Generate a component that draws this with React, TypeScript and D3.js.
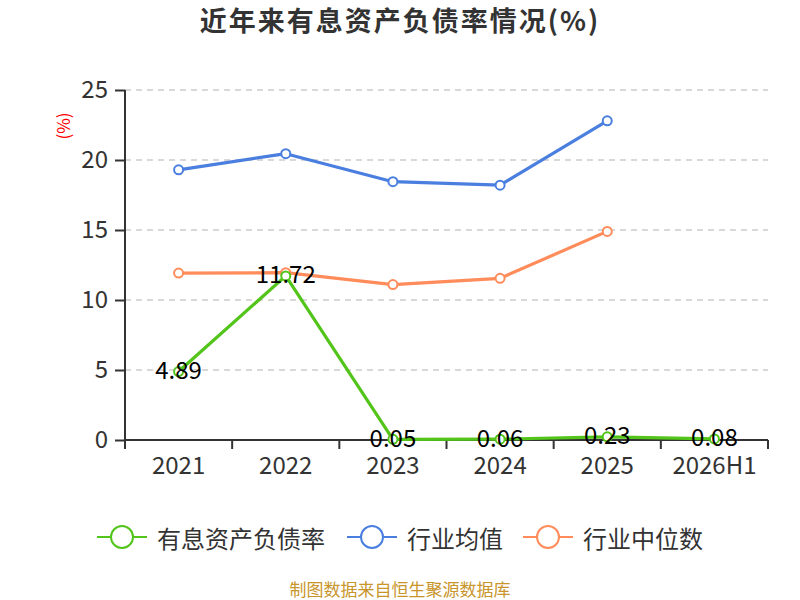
import React, { useRef, useEffect } from 'react';
import * as d3 from 'd3';

const categories = ['2021', '2022', '2023', '2024', '2025', '2026H1'];
const debtRatio = [4.89, 11.72, 0.05, 0.06, 0.23, 0.08];
const industryAvg = [19.3, 20.45, 18.45, 18.2, 22.8, null];
const industryMedian = [11.92, 11.95, 11.1, 11.55, 14.9, null];
const yTicks = [0, 5, 10, 15, 20, 25];

const seriesList = [
  { name: '有息资产负债率', color: '#52c41a', values: debtRatio, labels: true },
  { name: '行业均值', color: '#4a7fe0', values: industryAvg, labels: false },
  { name: '行业中位数', color: '#ff8c5a', values: industryMedian, labels: false },
];

const FONT = '"Noto Sans CJK SC", "Noto Sans", sans-serif';

const App: React.FC = () => {
  const svgRef = useRef<SVGSVGElement>(null);

  useEffect(() => {
    if (!svgRef.current) return;
    const width = 800;
    const height = 600;
    const margin = { top: 90, right: 32, bottom: 160, left: 125 };

    const svg = d3.select(svgRef.current);
    svg.selectAll('*').remove();

    const x = d3.scaleBand<string>()
      .domain(categories)
      .range([margin.left, width - margin.right]);
    const y = d3.scaleLinear()
      .domain([0, 25])
      .range([height - margin.bottom, margin.top]);

    // title
    svg.append('text')
      .attr('x', 400).attr('y', 31)
      .attr('text-anchor', 'middle')
      .attr('font-family', FONT)
      .attr('font-size', 27)
      .attr('font-weight', 'bold')
      .attr('letter-spacing', 2)
      .attr('fill', '#333')
      .text('近年来有息资产负债率情况(%)');

    // y unit label
    svg.append('text')
      .attr('transform', 'translate(62,126) rotate(-90)')
      .attr('text-anchor', 'middle')
      .attr('dominant-baseline', 'central')
      .attr('font-family', FONT)
      .attr('font-size', 17)
      .attr('fill', '#ff0000')
      .text('(%)');

    // grid
    svg.append('g')
      .selectAll('line')
      .data(yTicks.filter(t => t > 0))
      .join('line')
      .attr('x1', margin.left).attr('x2', width - margin.right)
      .attr('y1', d => y(d)).attr('y2', d => y(d))
      .attr('stroke', '#ccc')
      .attr('stroke-width', 1.5)
      .attr('stroke-dasharray', '6,5');

    // y axis
    const yAxis = svg.append('g')
      .attr('transform', `translate(${margin.left},0)`)
      .call(d3.axisLeft(y).tickValues(yTicks).tickSize(10).tickPadding(7).tickFormat(d3.format('d')));
    yAxis.select('.domain').attr('stroke', '#333').attr('stroke-width', 2).attr('d', `M0,${y(25)}V${y(0)}`);
    yAxis.selectAll('.tick line').attr('stroke', '#333').attr('stroke-width', 2);
    yAxis.selectAll('.tick text')
      .attr('font-family', FONT).attr('font-size', 24).attr('fill', '#333');

    // x axis
    const xAxis = svg.append('g')
      .attr('transform', `translate(0,${y(0)})`)
      .call(d3.axisBottom(x).tickSize(0).tickPadding(17));
    xAxis.select('.domain').attr('stroke', '#333').attr('stroke-width', 2).attr('d', `M${margin.left},0H${width - margin.right}`);
    xAxis.selectAll('.tick text')
      .attr('font-family', FONT).attr('font-size', 24).attr('fill', '#333');
    const bounds = [...categories.map(c => x(c)!), width - margin.right];
    xAxis.append('g')
      .selectAll('line')
      .data(bounds)
      .join('line')
      .attr('x1', d => d).attr('x2', d => d)
      .attr('y1', 0).attr('y2', 9)
      .attr('stroke', '#333').attr('stroke-width', 2);

    const cx = (c: string) => x(c)! + x.bandwidth() / 2;

    const line = d3.line<{ c: string; v: number | null }>()
      .defined(d => d.v !== null)
      .x(d => cx(d.c))
      .y(d => y(d.v as number));

    // draw in order: median, avg, ratio
    const drawOrder = [seriesList[2], seriesList[1], seriesList[0]];
    drawOrder.forEach(s => {
      const pts = categories.map((c, i) => ({ c, v: s.values[i] as number | null }));
      const g = svg.append('g');
      g.append('path')
        .datum(pts)
        .attr('d', line)
        .attr('fill', 'none')
        .attr('stroke', s.color)
        .attr('stroke-width', 3.2)
        .attr('stroke-linejoin', 'round');
      g.selectAll('circle')
        .data(pts.filter(p => p.v !== null))
        .join('circle')
        .attr('cx', d => cx(d.c))
        .attr('cy', d => y(d.v as number))
        .attr('r', 4.5)
        .attr('fill', '#fff')
        .attr('stroke', s.color)
        .attr('stroke-width', 2);
      if (s.labels) {
        g.selectAll('text')
          .data(pts)
          .join('text')
          .attr('x', d => cx(d.c))
          .attr('y', d => y(d.v as number) - 3)
          .attr('text-anchor', 'middle')
          .attr('dominant-baseline', 'central')
          .attr('font-family', FONT)
          .attr('font-size', 24)
          .attr('fill', '#000')
          .text(d => (d.v as number).toFixed(2));
      }
    });

    // legend
    const legendItems = [
      { s: seriesList[0], x: 97 },
      { s: seriesList[1], x: 347 },
      { s: seriesList[2], x: 523 },
    ];
    const lg = svg.append('g').attr('transform', 'translate(0,537)');
    legendItems.forEach(({ s, x: lx }) => {
      lg.append('line')
        .attr('x1', lx).attr('x2', lx + 50)
        .attr('y1', 0).attr('y2', 0)
        .attr('stroke', s.color).attr('stroke-width', 2);
      lg.append('circle')
        .attr('cx', lx + 25).attr('cy', 0).attr('r', 11)
        .attr('fill', '#fff')
        .attr('stroke', s.color).attr('stroke-width', 2);
      lg.append('text')
        .attr('x', lx + 60).attr('y', 0)
        .attr('dominant-baseline', 'central')
        .attr('font-family', FONT)
        .attr('font-size', 24)
        .attr('fill', '#333')
        .text(s.name);
    });

    // source
    svg.append('text')
      .attr('x', 400).attr('y', 588)
      .attr('text-anchor', 'middle')
      .attr('dominant-baseline', 'central')
      .attr('font-family', FONT)
      .attr('font-size', 17)
      .attr('fill', '#c8952b')
      .text('制图数据来自恒生聚源数据库');
  }, []);

  return (
    <svg
      ref={svgRef}
      width={800}
      height={600}
      style={{ position: 'absolute', left: 0, top: 0, background: '#fff' }}
    />
  );
};

export default App;
